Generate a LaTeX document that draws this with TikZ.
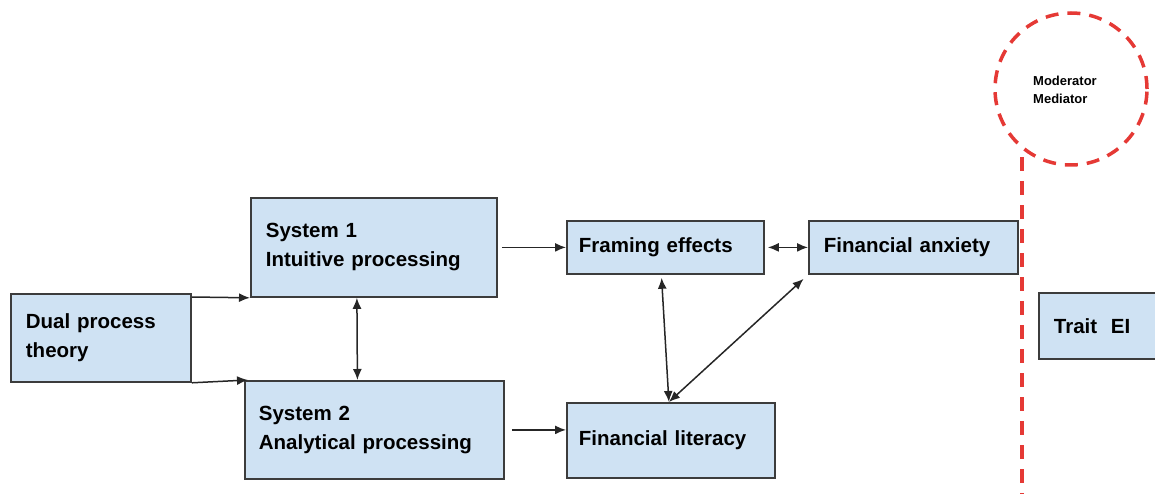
\documentclass[tikz,border=0pt]{standalone}
\usepackage{fontspec}
\setmainfont{Liberation Sans}
\usepackage{tikz}
\usetikzlibrary{arrows.meta}

\definecolor{boxblue}{RGB}{207,226,243}
\definecolor{boxline}{RGB}{60,60,60}
\definecolor{modred}{RGB}{229,57,53}

\tikzset{
  blk/.style={draw=boxline, line width=1.8pt, fill=boxblue, anchor=north west,
    align=left, inner ysep=0pt, font=\fontsize{20.5}{29}\selectfont\bfseries},
  arr/.style={draw=black!85, line width=1.5pt, -{Latex[length=11pt,width=9pt]}},
  darr/.style={draw=black!85, line width=1.5pt, {Latex[length=11pt,width=9pt]}-{Latex[length=11pt,width=9pt]}},
}

\begin{document}
\begin{tikzpicture}[x=1pt,y=-1pt]
    \useasboundingbox (0,0) rectangle (1155,494);

    % boxes
    \node[blk, inner xsep=15pt, text width=150pt, minimum height=88pt] (dual) at (10,293) {Dual process\\theory};
    \node[blk, inner xsep=15pt, text width=216pt, minimum height=99pt] (sys1) at (250,197) {System 1\\Intuitive processing};
    \node[blk, inner xsep=14pt, text width=231pt, minimum height=98pt] (sys2) at (244,380) {System 2\\Analytical processing};
    \node[blk, inner xsep=12pt, text width=173pt, minimum height=53pt] (frame) at (566,220) {Framing effects};
    \node[blk, inner xsep=15pt, text width=179pt, minimum height=53pt] (anx) at (808,220) {Financial anxiety};
    \node[blk, inner xsep=12pt, text width=184pt, minimum height=75pt] (lit) at (566,402) {Financial literacy};
    \node[blk, inner xsep=15pt, text width=110pt, minimum height=66pt] (trait) at (1038,292) {Trait~~EI};

    % moderator / mediator
    \node[circle, draw=modred, line width=3.5pt, dash pattern=on 13pt off 9pt,
      minimum size=152pt, inner sep=0pt] (modr) at (1071,89) {};
    \node[anchor=west, align=left, inner sep=0pt,
      font=\fontsize{13}{18}\selectfont\bfseries] (modrtxt) at (1033,90) {Moderator\\Mediator};
    \coordinate (lineend) at (1023,494);
    \draw[modred, line width=4pt, dash pattern=on 14pt off 10pt, shorten <=8pt] (modr.231) -- (modr.231 |- lineend);

    % arrows
    \draw[arr] ([yshift=-4pt]dual.north east) -- (sys1.south west);
    \draw[arr] (dual.south east) -- ([xshift=4pt]sys2.north west);
    \draw[darr] ([xshift=-17pt]sys1.south) -- ([xshift=-17pt]sys2.north);
    \draw[arr, shorten <=4pt] (sys1.east) -- (frame.west);
    \draw[arr, shorten <=7pt] (sys2.east) -- (sys2.east -| lit.west);
    \draw[darr, shorten <=3pt] (frame.east) -- (anx.west);
    \draw[darr, shorten <=3pt] ([xshift=-4pt]frame.south) -- ([xshift=-2pt]lit.north);
    \draw[darr, shorten <=6pt] (anx.south west) -- ([xshift=-2pt]lit.north);

\end{tikzpicture}
\end{document}
